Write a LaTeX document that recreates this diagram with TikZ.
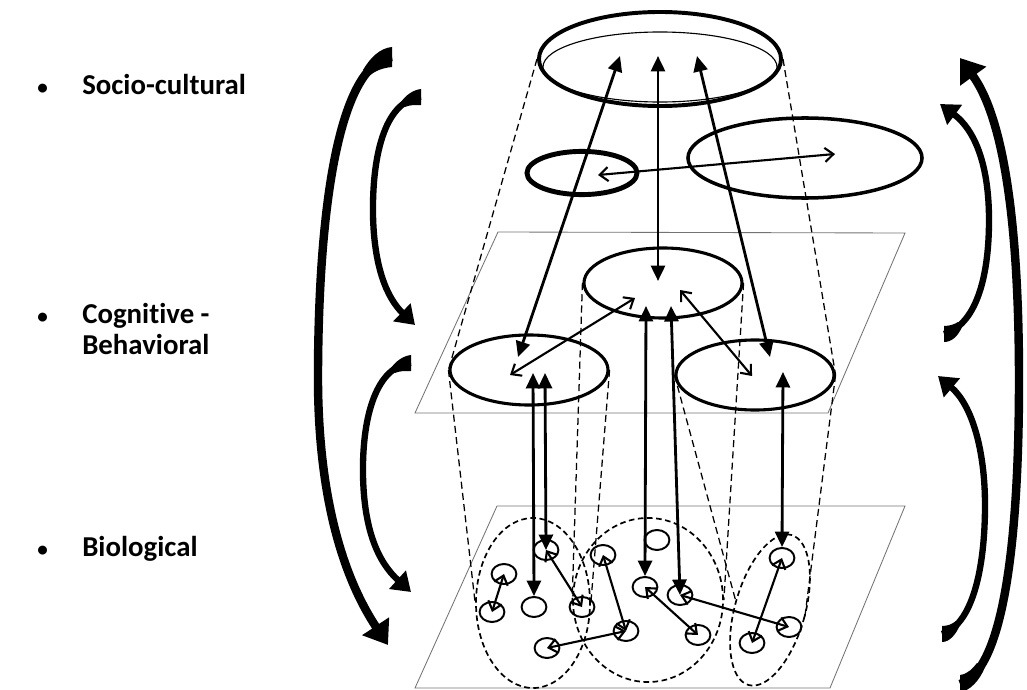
\documentclass[tikz,border=0pt]{standalone}
\usepackage{fontspec}
\setmainfont[Ligatures=NoCommon]{Carlito}
\usetikzlibrary{arrows.meta,shapes.geometric}
\newcommand{\dotmark}{{\fontsize{15}{15}\selectfont\textbullet}}
\tikzset{
  plane/.style={draw=black!55, line width=0.6pt},
  ring/.style={ellipse, draw, inner sep=0pt, line width=2.2pt},
  cell/.style={ellipse, draw, inner sep=0pt, line width=1.4pt, minimum width=0.62cm, minimum height=0.5cm},
  group/.style={ellipse, draw, inner sep=0pt, line width=1.2pt, dash pattern=on 4pt off 2.5pt},
  silhouette/.style={line width=0.9pt, dash pattern=on 5pt off 3pt},
  link/.style={line width=2pt, {Triangle[length=11pt,width=10pt]}-{Triangle[length=11pt,width=10pt]}},
  mutual/.style={line width=1.5pt, {Straight Barb[length=6pt,width=10pt]}-{Straight Barb[length=6pt,width=10pt]}},
  feedback/.style={line width=4.5pt, -{Triangle[length=13pt,width=17pt]}},
  bigfeedback/.style={line width=6pt, -{Triangle[length=16pt,width=22pt]}},
  tailpiece/.style={fill=black},
  tierlabel/.style={anchor=west, inner sep=0pt, font=\bfseries\fontsize{20.5}{21.5}\selectfont}
}
\begin{document}
\begin{tikzpicture}[x=0.025cm, y=-0.025cm]
\useasboundingbox (0,0) rectangle (1027,690);

\node[tierlabel] (tsoc) at (37,88) {\begin{tabular}{@{}p{1.125cm}@{}l@{}}\dotmark & Socio-cultural\end{tabular}};
\node[tierlabel] (tcog) at (37,333) {\begin{tabular}{@{}p{1.125cm}@{}l@{}}\dotmark & Cognitive -\\ & Behavioral\end{tabular}};
\node[tierlabel] (tbio) at (37,550) {\begin{tabular}{@{}p{1.125cm}@{}l@{}}\dotmark & Biological\end{tabular}};

\draw[plane] (498,232) -- (905,233) -- (828,413) -- (415,413) -- cycle;
\draw[plane] (497,506) -- (905,506) -- (830,688) -- (415,688) -- cycle;

\node[ring, line width=2.8pt, minimum width=6.05cm, minimum height=2.35cm] (socio) at (660,59) {};
\node[ring, line width=0.8pt, minimum width=5.85cm, minimum height=1.75cm] (socioin) at (660,67) {};
\node[ring, line width=3.5pt, minimum width=2.75cm, minimum height=1.08cm] (sgrpA) at (582,173) {};
\node[ring, line width=2.5pt, minimum width=5.85cm, minimum height=2cm] (sgrpB) at (805,158) {};
\node[ring, minimum width=3.95cm, minimum height=1.75cm] (cogmid) at (663,283) {};
\node[ring, minimum width=3.95cm, minimum height=1.75cm] (cogleft) at (529,370) {};
\node[ring, minimum width=3.95cm, minimum height=1.75cm] (cogright) at (755,375) {};
\node[group, minimum width=2.85cm, minimum height=4.25cm] (bioleft) at (533,603) {};
\node[group, minimum width=3.75cm, minimum height=4.1cm] (biomid) at (648,600) {};
\node[group, minimum width=1.75cm, minimum height=3.9cm, rotate=-16] (bioright) at (770,610) {};

\node[cell] (b1) at (546,550) {};
\node[cell] (b2) at (504,574) {};
\node[cell] (b3) at (492,612) {};
\node[cell] (b4) at (534,607) {};
\node[cell] (b5) at (582,607) {};
\node[cell] (b6) at (603,555) {};
\node[cell] (b7) at (626,631) {};
\node[cell] (b8) at (547,648) {};
\node[cell] (b9) at (657,540) {};
\node[cell] (b10) at (645,587) {};
\node[cell] (b11) at (680,595) {};
\node[cell] (b12) at (698,635) {};
\node[cell] (b13) at (782,558) {};
\node[cell] (b14) at (752,643) {};
\node[cell] (b15) at (789,627) {};

\coordinate (s1) at (620,56);
\coordinate (s2) at (658,56);
\coordinate (s3) at (697,56);
\coordinate (sa) at (598,175);
\coordinate (sb) at (835,154);
\coordinate (cl1) at (518,357);
\coordinate (cm1) at (658,281);
\coordinate (cr1) at (770,357);
\coordinate (cl2) at (510,375);
\coordinate (cm2) at (635,298);
\coordinate (cm3) at (680,290);
\coordinate (cr2) at (752,376);
\coordinate (cl3) at (533,373);
\coordinate (cl4) at (545,373);
\coordinate (cm4) at (646,306);
\coordinate (cm5) at (671,306);
\coordinate (cr3) at (783,372);

\draw[silhouette] (socio.west) -- (cogleft.west);
\draw[silhouette] (socio.east) -- (cogright.east);
\draw[silhouette] (cogleft.west) -- (bioleft.west);
\draw[silhouette] (cogleft.east) -- (bioleft.east);
\draw[silhouette] (cogmid.west) -- (biomid.west);
\draw[silhouette] (cogmid.east) -- (biomid.east);
\draw[silhouette] (cogright.west) -- (bioright.west);
\draw[silhouette] (cogright.east) -- (bioright.east);

\draw[link] (s1) -- (cl1);
\draw[link] (s2) -- (cm1);
\draw[link] (s3) -- (cr1);
\draw[mutual] (sa) -- (sb);
\draw[mutual] (cl2) -- (cm2);
\draw[mutual] (cm3) -- (cr2);
\draw[link] (cl3) -- (b4.north);
\draw[link] (cl4) -- (b1.center);
\draw[link] (cm4) -- (b10.north);
\draw[link] (cm5) -- (b11.center);
\draw[link] (cr3) -- (b13.north);

\draw[mutual] (b2.center) -- (b3.center);
\draw[mutual] (b1.center) -- (b5.center);
\draw[mutual] (b6.center) -- (b7.center);
\draw[mutual] (b8.center) -- (b7.center);
\draw[mutual] (b10.center) -- (b12.center);
\draw[mutual] (b11.center) -- (b15.center);
\draw[mutual] (b13.center) -- (b14.center);

\coordinate (lo1) at (392,57);
\coordinate (lo2) at (388,645);
\coordinate (lu1) at (421,97);
\coordinate (lu2) at (415,325);
\coordinate (ll1) at (411,363);
\coordinate (ll2) at (411,592);
\coordinate (ro1) at (960,684);
\coordinate (ro2) at (960,58);
\coordinate (ru1) at (944,334);
\coordinate (ru2) at (940,104);
\coordinate (rl1) at (942,634);
\coordinate (rl2) at (938,376);

\draw[bigfeedback] (lo1) .. controls (345,62) and (319,180) .. (318,370) .. controls (317,500) and (345,580) .. (lo2);
\draw[feedback] (lu1) .. controls (387,100) and (372,150) .. (373,215) .. controls (374,265) and (386,297) .. (lu2);
\draw[feedback] (ll1) .. controls (377,366) and (362,415) .. (363,475) .. controls (364,530) and (378,562) .. (ll2);
\draw[bigfeedback] (ro1) .. controls (1000,672) and (1019,560) .. (1019,380) .. controls (1019,230) and (1005,120) .. (ro2);
\draw[feedback] (ru1) .. controls (975,325) and (989,280) .. (989,220) .. controls (989,165) and (975,130) .. (ru2);
\draw[feedback] (rl1) .. controls (972,625) and (985,570) .. (985,505) .. controls (985,450) and (972,405) .. (rl2);

\fill[tailpiece] (392,47) -- (392,67) .. controls (382,68) and (375,71) .. (369,76) -- (363,70) .. controls (370,58) and (380,48) .. cycle;
\fill[tailpiece] (421,89) -- (421,105) .. controls (414,105) and (409,105) .. (405,107) -- (401,102) .. controls (406,95) and (413,90) .. cycle;
\fill[tailpiece] (411,355) -- (411,371) .. controls (404,371) and (399,371) .. (395,373) -- (391,368) .. controls (396,361) and (403,356) .. cycle;
\fill[tailpiece] (960,675) .. controls (968,674) and (973,668) .. (977,663) -- (985,667) .. controls (980,680) and (970,691) .. (960,692) -- cycle;
\fill[tailpiece] (944,326) .. controls (950,326) and (955,324) .. (958,322) -- (962,327) .. controls (958,336) and (952,342) .. (944,342) -- cycle;
\fill[tailpiece] (942,626) .. controls (948,626) and (952,624) .. (956,621) -- (960,625) .. controls (956,634) and (950,642) .. (942,642) -- cycle;
\end{tikzpicture}
\end{document}
